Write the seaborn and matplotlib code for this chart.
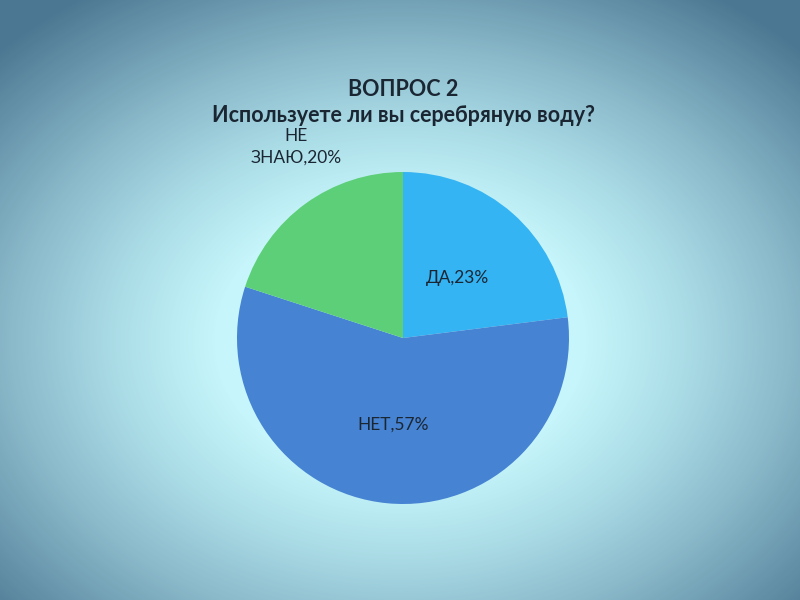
import numpy as np
import matplotlib.pyplot as plt
import seaborn as sns
from matplotlib.colors import LinearSegmentedColormap

sns.set_theme(style="white")
plt.rcParams['font.family'] = ['Lato', 'DejaVu Sans']

# data
categories = ["ДА", "НЕТ", "НЕ ЗНАЮ"]
values = [23, 57, 20]
colors = ["#35b4f4", "#4683d3", "#5dcf78"]
title_1 = "ВОПРОС 2"
title_2 = "Используете ли вы серебряную воду?"

fig = plt.figure(figsize=(8, 6), dpi=100)

# background radial gradient
bg = fig.add_axes([0, 0, 1, 1])
yy, xx = np.mgrid[0:600, 0:800]
d = np.sqrt(((xx - 400) / 560) ** 2 + ((yy - 340) / 420) ** 2)
cmap = LinearSegmentedColormap.from_list(
    "bg", [(0, "#cbfafd"), (0.33, "#c6f6fb"), (0.5, "#acdee8"),
           (0.7, "#8ab9ca"), (1.0, "#4c7792")])
bg.imshow(np.clip(d, 0, 1), cmap=cmap, vmin=0, vmax=1, aspect="auto", extent=[0, 800, 600, 0])
bg.axis("off")

# pie
ax = fig.add_axes([(403 - 166) / 800, (600 - 338 - 166) / 600, 332 / 800, 332 / 600])
wedges, _ = ax.pie(values, colors=colors, startangle=90, counterclock=False,
                   wedgeprops=dict(linewidth=0))
ax.set_xlim(-1, 1)
ax.set_ylim(-1, 1)
ax.set_aspect("equal")
ax.axis("off")

txt = dict(fontsize=12.5, color="#1b2633", ha="center", va="center", clip_on=False)
ax.text(0.33, 0.36, f"{categories[0]},{values[0]}%", **txt)
ax.text(-0.06, -0.52, f"{categories[1]},{values[1]}%", **txt)
ax.text(-0.645, 1.215, "НЕ", **txt)
ax.text(-0.645, 1.085, f"ЗНАЮ,{values[2]}%", **txt)

fig.text(403 / 800, 1 - 89 / 600, title_1, fontsize=15.5, fontweight="bold",
         color="#1b2633", ha="center", va="center")
fig.text(403 / 800, 1 - 116 / 600, title_2, fontsize=15.5, fontweight="bold",
         color="#1b2633", ha="center", va="center")

fig.savefig("out.png", dpi=100)
